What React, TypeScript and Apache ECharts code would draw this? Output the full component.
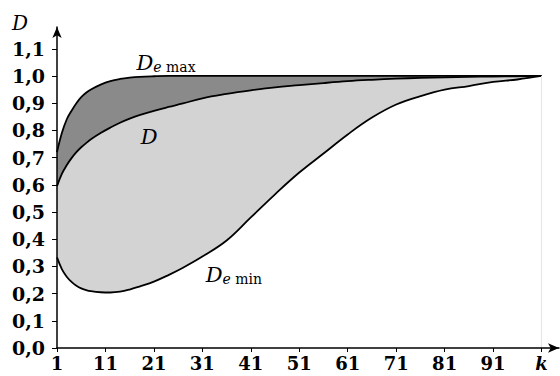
import React, { useEffect, useRef } from "react";
import * as echarts from "echarts";

const kValues = [1, 2, 3, 4, 5, 6, 7, 8, 10, 12, 14, 16, 18, 21, 24, 27, 31, 36, 41, 46, 51, 56, 61, 66, 71, 76, 81, 86, 91, 96, 101];
const deMax = [0.72, 0.79, 0.84, 0.872, 0.9, 0.922, 0.938, 0.95, 0.968, 0.981, 0.989, 0.994, 0.997, 0.999, 1.0, 1.0, 1.0, 1.0, 1.0, 1.0, 1.0, 1.0, 1.0, 1.0, 1.0, 1.0, 1.0, 1.0, 1.0, 1.0, 1.0];
const dMid = [0.595, 0.64, 0.672, 0.698, 0.72, 0.738, 0.753, 0.767, 0.79, 0.81, 0.828, 0.843, 0.856, 0.872, 0.886, 0.899, 0.918, 0.934, 0.947, 0.958, 0.966, 0.974, 0.981, 0.986, 0.99, 0.993, 0.995, 0.997, 0.998, 0.999, 1.0];
const deMin = [0.333, 0.29, 0.262, 0.243, 0.229, 0.219, 0.213, 0.209, 0.205, 0.204, 0.207, 0.215, 0.226, 0.244, 0.268, 0.295, 0.336, 0.395, 0.48, 0.565, 0.645, 0.715, 0.785, 0.847, 0.895, 0.926, 0.95, 0.963, 0.978, 0.987, 1.0];
const xTicks = [1, 11, 21, 31, 41, 51, 61, 71, 81, 91, 101];
const yTicks = [0, 0.1, 0.2, 0.3, 0.4, 0.5, 0.6, 0.7, 0.8, 0.9, 1.0, 1.1];

const SERIF = "DejaVu Serif";

const pairs = (ys: number[]) => kValues.map((k, i) => [k, ys[i]]);

const subRich = {
  D: { fontFamily: SERIF, fontStyle: "italic", fontSize: 21, lineHeight: 28, verticalAlign: "bottom", color: "#000" },
  e: { fontFamily: SERIF, fontStyle: "italic", fontSize: 14, lineHeight: 15, verticalAlign: "bottom", color: "#000" },
  s: { fontFamily: SERIF, fontSize: 14, lineHeight: 15, verticalAlign: "bottom", color: "#000" },
};

function markLabel(coord: number[], text: string) {
  return {
    silent: true,
    symbol: "circle",
    symbolSize: 0,
    data: [{ coord }],
    label: { show: true, position: "inside", formatter: text, rich: subRich },
  };
}

export default function App() {
  const ref = useRef<HTMLDivElement>(null);
  useEffect(() => {
    if (!ref.current) return;
    const chart = echarts.init(ref.current, null, { renderer: "svg" });
    const lineStyle = { color: "#000", width: 1.8 };
    const common = { showSymbol: false, smooth: 0.4, lineStyle };
    chart.setOption({
      animation: false,
      backgroundColor: "#fff",
      title: {
        text: "D",
        left: 7,
        top: 8,
        textStyle: { fontFamily: SERIF, fontStyle: "italic", fontWeight: "normal", fontSize: 20, color: "#000" },
      },
      grid: { left: 57, right: 1, top: 27, bottom: 28 },
      xAxis: {
        type: "value",
        min: 1,
        max: 104.6,
        z: 10,
        splitLine: { show: false },
        axisLine: { show: true, lineStyle: { color: "#000", width: 1.5 }, symbol: ["none", "arrow"], symbolSize: [7, 11] },
        axisTick: { show: true, customValues: xTicks, length: 4, lineStyle: { color: "#000", width: 1 } },
        axisLabel: {
          customValues: xTicks,
          margin: 6,
          fontFamily: SERIF,
          fontWeight: "bold",
          fontSize: 18,
          color: "#000",
          formatter: (v: number) => (v === 101 ? "{k|k}" : String(v)),
          rich: { k: { fontFamily: SERIF, fontStyle: "italic", fontWeight: "bold", fontSize: 18, color: "#000" } },
        },
      },
      yAxis: {
        type: "value",
        min: 0,
        max: 1.18,
        z: 10,
        splitLine: { show: false },
        axisLine: { show: true, lineStyle: { color: "#000", width: 1.5 }, symbol: ["none", "arrow"], symbolSize: [7, 11] },
        axisTick: { show: true, customValues: yTicks, length: 5, lineStyle: { color: "#000", width: 1 } },
        axisLabel: {
          customValues: yTicks,
          margin: 12,
          fontFamily: SERIF,
          fontWeight: "bold",
          fontSize: 19,
          color: "#000",
          formatter: (v: number) => v.toFixed(1).replace(".", ","),
        },
      },
      series: [
        {
          type: "line",
          name: "De max",
          data: pairs(deMax),
          ...common,
          z: 1,
          areaStyle: { color: "#8a8a8a", opacity: 1, origin: "start" },
          markPoint: markLabel([23.5, 1.06], "{D|D}{e|e}{s| max}"),
        },
        {
          type: "line",
          name: "D",
          data: pairs(dMid),
          ...common,
          z: 2,
          areaStyle: { color: "#d3d3d3", opacity: 1, origin: "start" },
          markPoint: markLabel([20, 0.79], "{D|D}"),
        },
        {
          type: "line",
          name: "De min",
          data: pairs(deMin),
          ...common,
          z: 3,
          areaStyle: { color: "#ffffff", opacity: 1, origin: "start" },
          markPoint: markLabel([37.5, 0.28], "{D|D}{e|e}{s| min}"),
        },
        {
          type: "line",
          data: [],
          z: 4,
          markLine: {
            silent: true,
            symbol: ["none", "none"],
            label: { show: false },
            lineStyle: { color: "#e4e4e4", width: 1, type: "solid" },
            data: [[{ coord: [101, 0] }, { coord: [101, 1] }]],
          },
        },
      ],
    });
    return () => chart.dispose();
  }, []);
  return <div ref={ref} style={{ position: "absolute", left: 0, top: 0, width: 560, height: 376 }} />;
}
